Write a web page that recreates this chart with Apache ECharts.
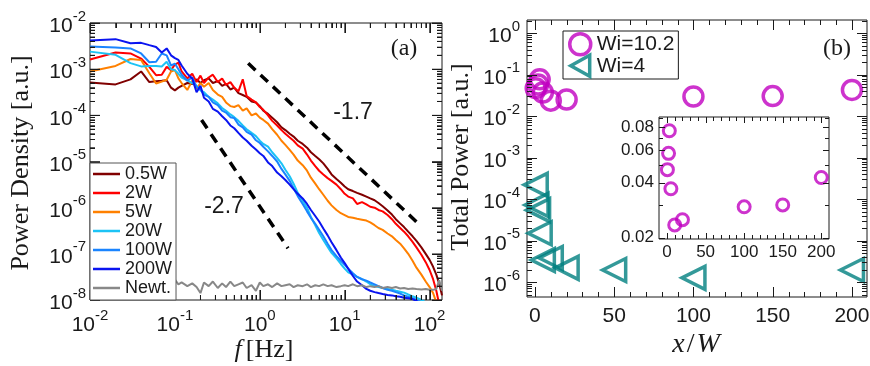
<!DOCTYPE html>
<html>
<head>
<meta charset="utf-8">
<script src="https://cdn.jsdelivr.net/npm/echarts@6.0.0/dist/echarts.min.js"></script>
<style>
  html, body { margin: 0; background: #fff; }
  #chart { width: 870px; height: 366px; }
</style>
</head>
<body>
<div id="chart"></div>
<script>
// ---- panel (a): spectra. frequency in Hz, curves as log10(power density)
const freqHz = [
  0.01, 0.02, 0.03, 0.04, 0.05, 0.06, 0.07, 0.08, 0.09, 0.1,
  0.11, 0.12, 0.14, 0.16, 0.18, 0.2, 0.22, 0.25, 0.28, 0.32,
  0.36, 0.4, 0.45, 0.5, 0.56, 0.63, 0.7, 0.8, 0.9, 1,
  1.1, 1.25, 1.4, 1.6, 1.8, 2, 2.25, 2.5, 2.8, 3.2,
  3.6, 4, 4.5, 5, 5.6, 6.3, 7, 8, 9, 10,
  11, 12.5, 14, 16, 18, 20, 22.5, 25, 28, 32,
  36, 40, 45, 50, 56, 63, 70, 80, 90, 100,
  110, 120, 130, 140
];
const exp05W = [
  -3.29, -3.33, -3.22, -3.05, -3.28, -3.26, -3.25, -3.24, -3.40, -3.46,
  -3.40, -3.36, -3.30, -3.32, -3.22, -3.30, -3.24, -3.20, -3.30, -3.26,
  -3.36, -3.32, -3.44, -3.40, -3.52, -3.56, -3.60, -3.70, -3.72, -3.80,
  -3.90, -3.97, -4.05, -4.15, -4.26, -4.32, -4.40, -4.46, -4.55, -4.62,
  -4.70, -4.80, -4.88, -4.95, -5.04, -5.16, -5.28, -5.38, -5.46, -5.54,
  -5.60, -5.64, -5.68, -5.72, -5.76, -5.80, -5.84, -5.90, -5.97, -6.06,
  -6.15, -6.25, -6.34, -6.42, -6.52, -6.62, -6.72, -6.86, -7.00, -7.13,
  -7.28, -7.45, -7.65, -7.90
];
const exp2W = [
  -2.79, -2.64, -2.66, -2.77, -2.95, -3.13, -3.12, -2.95, -3.02, -2.90,
  -2.86, -3.05, -3.20, -3.10, -3.28, -3.14, -3.30, -3.18, -3.12, -3.28,
  -3.20, -3.34, -3.28, -3.40, -3.48, -3.22, -3.58, -3.66, -3.72, -3.82,
  -3.88, -4.00, -4.12, -4.22, -4.32, -4.40, -4.48, -4.55, -4.65, -4.72,
  -4.85, -4.98, -5.10, -5.20, -5.28, -5.36, -5.42, -5.50, -5.60, -5.70,
  -5.76, -5.80, -5.92, -5.88, -5.93, -5.98, -6.00, -6.05, -6.08, -6.16,
  -6.25, -6.35, -6.44, -6.52, -6.62, -6.74, -6.86, -7.02, -7.18, -7.35,
  -7.55, -7.80, -8.10, -8.40
];
const exp5W = [
  -3.05, -2.93, -2.78, -2.80, -3.09, -3.31, -3.27, -3.23, -3.05, -3.02,
  -3.20, -3.30, -3.45, -3.25, -3.42, -3.30, -3.38, -3.30, -3.45, -3.55,
  -3.60, -3.72, -3.80, -3.82, -3.78, -3.90, -3.85, -4.00, -3.96, -4.05,
  -4.10, -4.18, -4.30, -4.42, -4.55, -4.64, -4.75, -4.85, -4.98, -5.08,
  -5.20, -5.35, -5.48, -5.60, -5.72, -5.85, -5.95, -6.05, -6.12, -6.16,
  -6.20, -6.22, -6.24, -6.26, -6.28, -6.32, -6.38, -6.44, -6.48, -6.56,
  -6.62, -6.70, -6.78, -6.88, -7.00, -7.15, -7.30, -7.45, -7.60, -7.72,
  -7.85, -8.05, -8.30, -8.60
];
const exp20W = [
  -2.62, -2.69, -2.87, -2.94, -2.93, -2.93, -2.94, -2.84, -3.00, -3.02,
  -3.10, -3.18, -3.24, -3.30, -3.36, -3.46, -3.50, -3.60, -3.66, -3.74,
  -3.84, -3.90, -3.98, -4.04, -4.12, -4.22, -4.30, -4.38, -4.45, -4.55,
  -4.62, -4.68, -4.80, -4.92, -5.04, -5.18, -5.32, -5.48, -5.68, -5.85,
  -6.00, -6.20, -6.38, -6.55, -6.70, -6.85, -6.98, -7.10, -7.22, -7.32,
  -7.40, -7.45, -7.50, -7.55, -7.60, -7.66, -7.70, -7.72, -7.74, -7.76,
  -7.78, -7.80, -7.82, -7.84, -7.88, -7.92, -7.95, -8.00, -8.05, -8.10,
  -8.20, -8.30, -8.40, -8.50
];
const exp100W = [
  -2.51, -2.53, -2.55, -2.66, -2.85, -2.84, -2.66, -2.70, -2.92, -2.88,
  -3.00, -3.12, -3.25, -3.18, -3.38, -3.44, -3.55, -3.60, -3.72, -3.78,
  -3.90, -3.94, -4.04, -4.06, -4.20, -4.26, -4.36, -4.42, -4.54, -4.60,
  -4.68, -4.78, -4.88, -5.00, -5.16, -5.28, -5.42, -5.58, -5.75, -5.92,
  -6.08, -6.22, -6.35, -6.48, -6.62, -6.78, -6.92, -7.05, -7.15, -7.24,
  -7.32, -7.42, -7.50, -7.55, -7.58, -7.62, -7.66, -7.70, -7.74, -7.78,
  -7.80, -7.83, -7.86, -7.90, -7.93, -7.96, -8.00, -8.05, -8.10, -8.15,
  -8.20, -8.30, -8.40, -8.50
];
const exp200W = [
  -2.38, -2.35, -2.44, -2.43, -2.48, -2.52, -2.64, -2.55, -2.70, -2.76,
  -2.80, -2.92, -3.10, -3.20, -3.50, -3.36, -3.62, -3.70, -3.86, -3.92,
  -4.02, -4.10, -4.22, -4.28, -4.38, -4.48, -4.55, -4.66, -4.74, -4.82,
  -4.88, -5.02, -5.10, -5.24, -5.32, -5.40, -5.50, -5.60, -5.70, -5.80,
  -5.92, -6.05, -6.18, -6.30, -6.45, -6.60, -6.75, -6.92, -7.08, -7.20,
  -7.32, -7.48, -7.60, -7.68, -7.76, -7.80, -7.83, -7.85, -7.87, -7.89,
  -7.90, -7.92, -7.93, -7.95, -7.96, -7.98, -8.02, -8.10, -8.20, -8.30,
  -8.40, -8.50, -8.60, -8.70
];
const expNewt = [
  -7.62, -7.66, -7.60, -7.64, -7.70, -7.62, -7.58, -7.66, -7.60, -7.56,
  -7.66, -7.62, -7.70, -7.64, -7.72, -7.85, -7.62, -7.70, -7.60, -7.74,
  -7.64, -7.72, -7.60, -7.70, -7.66, -7.62, -7.74, -7.68, -7.80, -7.62,
  -7.70, -7.66, -7.72, -7.64, -7.70, -7.68, -7.66, -7.72, -7.68, -7.70,
  -7.66, -7.72, -7.68, -7.70, -7.66, -7.70, -7.68, -7.72, -7.70, -7.68,
  -7.70, -7.66, -7.70, -7.68, -7.72, -7.70, -7.72, -7.70, -7.74, -7.72,
  -7.74, -7.72, -7.75, -7.74, -7.76, -7.75, -7.76, -7.77, -7.76, -7.78,
  -7.78, -7.76, -7.57, -7.80
];
const spectrumNames = ['0.5W', '2W', '5W', '20W', '100W', '200W', 'Newt.'];
const spectrumExps = [exp05W, exp2W, exp5W, exp20W, exp100W, exp200W, expNewt];
const spectrumColors = ['#800000', '#ff0000', '#ff8000', '#1cc3f5', '#1a84ff', '#0a14f0', '#888888'];

// guide lines [f, power]
const guideSlope17 = [[0.73, 1.34e-3], [73, 4.6e-7]];
const guideSlope27 = [[0.206, 7.9e-5], [2.15, 1.32e-7]];

// ---- panel (b): total power vs x/W
const wi102X = [0.5, 2, 3, 5, 10, 20, 100, 150, 200];
const wi102Power = [0.047, 0.0577, 0.0766, 0.037, 0.0235, 0.0251, 0.0295, 0.0302, 0.0426];
const wi4X = [0.5, 1, 2, 3, 5, 10, 20, 50, 100, 200];
const wi4Power = [2.2e-4, 7.2e-5, 5.4e-5, 1.5e-5, 3.4e-6, 3.8e-6, 2.2e-6, 1.95e-6, 1.26e-6, 1.95e-6];

// tick positions
const decadesA = [-8, -7, -6, -5, -4, -3, -2];
const decadesF = [-2, -1, 0, 1, 2];
const decadesB = [-6, -5, -4, -3, -2, -1, 0];
const xTicksB = [0, 50, 100, 150, 200];
const insetYTicks = [0.02, 0.04, 0.06, 0.08];
const insetYMinor = [0.03, 0.05, 0.07, 0.09];

// axis ranges
const rangeA = { x: [0.01, 140], y: [1e-8, 1e-2] };
const rangeB = { x: [-5, 209.5], y: [4.36e-7, 2.06] };
const rangeInset = { x: [-10.4, 210], y: [0.0197, 0.091] };

const ink = '#1a1a1a';
const sans = '"Liberation Sans", Arial, sans-serif';
const serif = '"Liberation Serif", "Times New Roman", serif';

const pow10 = (e) => Math.pow(10, e);
const minorOf = (decs) => {
  const out = [];
  decs.forEach(e => { for (let k = 2; k <= 9; k++) out.push(k * pow10(e)); });
  return out;
};
const stepTicks = (a, b, s, skip) => {
  const out = [];
  for (let v = a; v <= b; v += s) if (!skip.includes(v)) out.push(v);
  return out;
};

function supLabel(values, fs, ss, margin) {
  return {
    show: true, margin, customValues: values,
    formatter: v => '{a|10}{b|' + Math.round(Math.log10(v)) + '}',
    rich: {
      a: { fontSize: fs, lineHeight: fs + 7, verticalAlign: 'bottom', fontFamily: sans, color: ink },
      b: { fontSize: ss, lineHeight: ss, verticalAlign: 'top', fontFamily: sans, color: ink }
    }
  };
}

function axis(gridIndex, type, range, label) {
  return {
    gridIndex, type, min: range[0], max: range[1],
    axisLine: { show: false, onZero: false },
    axisTick: { show: false },
    axisLabel: label,
    splitLine: { show: false }
  };
}

// inward ticks on all four sides, placed through the axes' own scales
function tickSeries(axisIndex, range, xMajor, xMinor, yMajor, yMinor, majorLen, minorLen) {
  const inX = v => v >= range.x[0] && v <= range.x[1];
  const inY = v => v >= range.y[0] && v <= range.y[1];
  const data = []
    .concat(xMajor.filter(inX).map(v => [v, range.y[0], majorLen, 0]))
    .concat(xMinor.filter(inX).map(v => [v, range.y[0], minorLen, 0]))
    .concat(yMajor.filter(inY).map(v => [range.x[0], v, majorLen, 1]))
    .concat(yMinor.filter(inY).map(v => [range.x[0], v, minorLen, 1]));
  return {
    type: 'custom', xAxisIndex: axisIndex, yAxisIndex: axisIndex, z: 25,
    clip: false, data,
    renderItem(params, api) {
      const cs = params.coordSys;
      const p = api.coord([api.value(0), api.value(1)]);
      const len = api.value(2);
      const st = { stroke: ink, lineWidth: 1 };
      if (api.value(3) === 0) {
        const x = Math.round(p[0]) + 0.5;
        const b = cs.y + cs.height;
        return { type: 'group', children: [
          { type: 'line', shape: { x1: x, y1: b, x2: x, y2: b - len }, style: st },
          { type: 'line', shape: { x1: x, y1: cs.y, x2: x, y2: cs.y + len }, style: st }
        ] };
      }
      const y = Math.round(p[1]) + 0.5;
      const r = cs.x + cs.width;
      return { type: 'group', children: [
        { type: 'line', shape: { x1: cs.x, y1: y, x2: cs.x + len, y2: y }, style: st },
        { type: 'line', shape: { x1: r, y1: y, x2: r - len, y2: y }, style: st }
      ] };
    }
  };
}

// same ticks drawn as thin rect symbols (second route for panel a)
function tickMarks(axisIndex, range, xMajor, xMinor, yMajor, yMinor, majorLen, minorLen) {
  const inX = v => v >= range.x[0] && v <= range.x[1];
  const inY = v => v >= range.y[0] && v <= range.y[1];
  const items = [];
  [[xMajor, majorLen], [xMinor, minorLen]].forEach(([ticks, len]) => ticks.filter(inX).forEach(v => {
    items.push({ value: [v, range.y[0]], symbolSize: [1, len], symbolOffset: [0, -len / 2] });
    items.push({ value: [v, range.y[1]], symbolSize: [1, len], symbolOffset: [0, len / 2] });
  }));
  [[yMajor, majorLen], [yMinor, minorLen]].forEach(([ticks, len]) => ticks.filter(inY).forEach(v => {
    items.push({ value: [range.x[0], v], symbolSize: [len, 1], symbolOffset: [len / 2, 0] });
    items.push({ value: [range.x[1], v], symbolSize: [len, 1], symbolOffset: [-len / 2, 0] });
  }));
  return {
    type: 'scatter', xAxisIndex: axisIndex, yAxisIndex: axisIndex, z: 26, clip: false,
    symbol: 'rect', itemStyle: { color: ink }, emphasis: { disabled: true },
    data: items
  };
}

const xAxes = [
  axis(0, 'log', rangeA.x, supLabel(decadesF.map(pow10), 21, 15, 8)),
  axis(1, 'value', rangeB.x, { show: true, margin: 9, customValues: xTicksB, fontSize: 21, fontFamily: sans, color: ink }),
  axis(2, 'value', rangeInset.x, { show: true, margin: 5, customValues: xTicksB, fontSize: 17, fontFamily: sans, color: ink })
];
const yAxes = [
  axis(0, 'log', rangeA.y, supLabel(decadesA.map(pow10), 21, 15, 4)),
  axis(1, 'log', rangeB.y, supLabel(decadesB.map(pow10), 21, 15, 7)),
  axis(2, 'log', rangeInset.y, { show: true, margin: 5, customValues: insetYTicks, fontSize: 17, fontFamily: sans, color: ink,
    formatter: v => v.toFixed(2) })
];

const series = [
  tickSeries(0, rangeA, decadesF.map(pow10), minorOf([-2, -1, 0, 1, 2]),
    decadesA.map(pow10), minorOf([-8, -7, -6, -5, -4, -3]), 10, 5),
  tickSeries(1, rangeB, xTicksB, stepTicks(10, 200, 10, xTicksB),
    decadesB.map(pow10), minorOf([-7, -6, -5, -4, -3, -2, -1, 0]), 10, 5),
  tickSeries(2, rangeInset, xTicksB, stepTicks(10, 200, 10, xTicksB),
    insetYTicks, insetYMinor, 6, 4)
];
spectrumNames.forEach((name, i) => series.push({
  name, type: 'line', xAxisIndex: 0, yAxisIndex: 0,
  showSymbol: false, symbol: 'none',
  lineStyle: { color: spectrumColors[i], width: 2 },
  itemStyle: { color: spectrumColors[i] },
  data: freqHz.map((f, j) => [f, pow10(spectrumExps[i][j])])
}));
[guideSlope17, guideSlope27].forEach(pts => series.push({
  type: 'line', xAxisIndex: 0, yAxisIndex: 0, symbol: 'none',
  lineStyle: { color: '#000', width: 3.5, type: [10, 7], cap: 'butt' },
  data: pts
}));
series.push({
  name: 'Wi=10.2', type: 'scatter', xAxisIndex: 1, yAxisIndex: 1,
  symbol: 'circle', symbolSize: 19,
  itemStyle: { color: 'rgba(0,0,0,0)', borderColor: '#c000c0', borderWidth: 3.5 },
  data: wi102X.map((x, i) => [x, wi102Power[i]])
});
series.push({
  name: 'Wi=4', type: 'scatter', xAxisIndex: 1, yAxisIndex: 1,
  symbol: 'triangle', symbolSize: 23, symbolRotate: 90,
  itemStyle: { color: 'rgba(0,0,0,0)', borderColor: '#008080', borderWidth: 3.5, borderJoin: 'miter' },
  data: wi4X.map((x, i) => [x, wi4Power[i]])
});
series.push({
  name: 'inset', type: 'scatter', xAxisIndex: 2, yAxisIndex: 2,
  symbol: 'circle', symbolSize: 12, z: 20,
  itemStyle: { color: 'rgba(0,0,0,0)', borderColor: '#c000c0', borderWidth: 3 },
  data: wi102X.map((x, i) => [x, wi102Power[i]])
});
series.push(tickMarks(0, rangeA, decadesF.map(pow10), minorOf([-2, -1, 0, 1, 2]),
  decadesA.map(pow10), minorOf([-8, -7, -6, -5, -4, -3]), 10, 5));

const option = {
  animation: false,
  backgroundColor: '#fff',
  grid: [
    { left: 90, top: 23, width: 352, height: 277, show: true, borderColor: ink, borderWidth: 1, backgroundColor: 'transparent', outerBoundsMode: 'none' },
    { left: 527, top: 20, width: 340, height: 277, show: true, borderColor: ink, borderWidth: 1, backgroundColor: 'transparent', outerBoundsMode: 'none' },
    { left: 659, top: 117, width: 170, height: 122, show: true, borderColor: ink, borderWidth: 1, backgroundColor: '#fff', z: 15, outerBoundsMode: 'none' }
  ],
  xAxis: xAxes,
  yAxis: yAxes,
  legend: [
    {
      data: spectrumNames, orient: 'vertical', left: 90, top: 163, z: 30,
      icon: 'rect', itemWidth: 27, itemHeight: 2.5, itemGap: 1, padding: [2, 4, 3, 3],
      backgroundColor: '#fff', borderColor: '#555', borderWidth: 1, borderRadius: 0,
      selectedMode: false,
      textStyle: { fontFamily: sans, fontSize: 18, color: ink, lineHeight: 18 }
    },
    {
      data: [
        { name: 'Wi=10.2', icon: 'circle' },
        { name: 'Wi=4', icon: 'path://M0,5L9,0L9,10Z' }
      ],
      orient: 'vertical', left: 563, top: 31, z: 30,
      itemWidth: 23, itemHeight: 21, itemGap: -3, padding: [1, 4, 1, 5],
      backgroundColor: '#fff', borderColor: ink, borderWidth: 1, borderRadius: 0,
      selectedMode: false,
      itemStyle: { borderWidth: 3.5 },
      textStyle: { fontFamily: sans, fontSize: 21, color: ink, lineHeight: 22 }
    }
  ],
  graphic: [
    { type: 'text', x: 353, y: 113, z: 100, style: { text: '-1.7', font: '23px ' + sans, fill: ink, align: 'center', verticalAlign: 'middle' } },
    { type: 'text', x: 224, y: 207, z: 100, style: { text: '-2.7', font: '23px ' + sans, fill: ink, align: 'center', verticalAlign: 'middle' } },
    { type: 'text', x: 404, y: 49, z: 100, style: { text: '(a)', font: '24px ' + serif, fill: ink, align: 'center', verticalAlign: 'middle' } },
    { type: 'text', x: 837, y: 49, z: 100, style: { text: '(b)', font: '24px ' + serif, fill: ink, align: 'center', verticalAlign: 'middle' } },
    { type: 'text', x: 21, y: 163, rotation: Math.PI / 2, z: 100,
      style: { text: 'Power Density [a.u.]', font: '26px ' + serif, fill: ink, align: 'center', verticalAlign: 'middle' } },
    { type: 'text', x: 461, y: 157, rotation: Math.PI / 2, z: 100,
      style: { text: 'Total Power [a.u.]', font: '26px ' + serif, fill: ink, align: 'center', verticalAlign: 'middle' } },
    { type: 'text', x: 264, y: 350, z: 100,
      style: { text: '{i|f}{n|[Hz]}', align: 'center', verticalAlign: 'middle',
        rich: { i: { font: 'italic 26px ' + serif, fill: ink, padding: [0, 4, 0, 0] }, n: { font: '26px ' + serif, fill: ink } } } },
    { type: 'text', x: 696, y: 345, z: 100,
      style: { text: '{i|x}{n|/}{i|W}', align: 'center', verticalAlign: 'middle',
        rich: { i: { font: 'italic 28px ' + serif, fill: ink }, n: { font: '28px ' + serif, fill: ink, padding: [0, 2, 0, 2] } } } }
  ],
  series
};

const chart = echarts.init(document.getElementById('chart'));
chart.setOption(option);
</script>
</body>
</html>
